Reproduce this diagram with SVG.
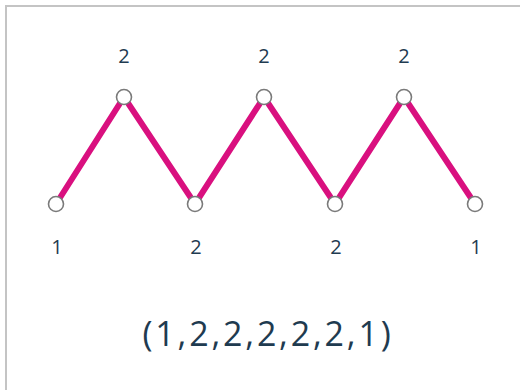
<svg xmlns="http://www.w3.org/2000/svg" width="520" height="390" viewBox="0 0 520 390">
<style>
.edge{stroke:#d9107f;stroke-width:6;stroke-linecap:round;fill:none}
.node{fill:#fff;stroke:#7a7a7a;stroke-width:1.6}
.lbl{font-family:"Open Sans","DejaVu Sans",sans-serif;font-size:20px;fill:#1f3b50;text-anchor:middle}
.seq{font-family:"Open Sans","DejaVu Sans",sans-serif;font-size:34px;fill:#1f3b50;text-anchor:middle;letter-spacing:2.8px}
</style>
<rect x="0" y="0" width="520" height="390" fill="#fff"/>
<path d="M6 390 V6 H520" fill="none" stroke="#c4c4c4" stroke-width="2"/>
<g id="connectors">
<path class="edge" d="M56 204 L124 97 L195 204 L264 97 L335 204 L404 97 L475 204"/>
</g>
<g id="n1"><circle class="node" cx="56" cy="204" r="7.5"/><text class="lbl" x="57" y="254">1</text></g>
<g id="n2"><circle class="node" cx="124" cy="97" r="7.5"/><text class="lbl" x="124" y="63">2</text></g>
<g id="n3"><circle class="node" cx="195" cy="204" r="7.5"/><text class="lbl" x="196" y="254">2</text></g>
<g id="n4"><circle class="node" cx="264" cy="97" r="7.5"/><text class="lbl" x="264" y="63">2</text></g>
<g id="n5"><circle class="node" cx="335" cy="204" r="7.5"/><text class="lbl" x="336" y="254">2</text></g>
<g id="n6"><circle class="node" cx="404" cy="97" r="7.5"/><text class="lbl" x="404" y="63">2</text></g>
<g id="n7"><circle class="node" cx="475" cy="204" r="7.5"/><text class="lbl" x="476" y="254">1</text></g>
<text class="seq" x="268" y="346">(1,2,2,2,2,2,1)</text>
</svg>
